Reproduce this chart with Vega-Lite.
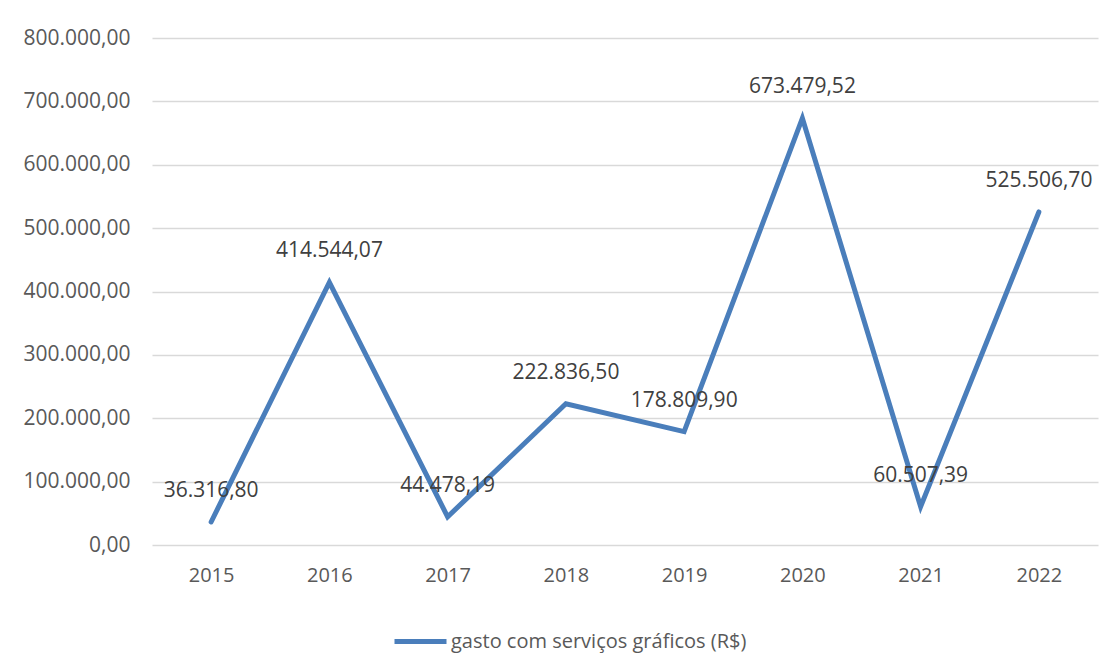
{
  "$schema": "https://vega.github.io/schema/vega-lite/v6.json",
  "width": 946,
  "height": 507,
  "autosize": {"type": "none"},
  "padding": {"left": 152, "top": 38, "right": 16, "bottom": 112},
  "background": "white",
  "config": {
    "locale": {"number": {"decimal": ",", "thousands": ".", "grouping": [3], "currency": ["R$", ""]}},
    "view": {"stroke": null},
    "font": "Open Sans"
  },
  "data": {
    "values": [
      {"ano": "2015", "valor": 36316.80, "serie": "gasto com serviços gráficos (R$)"},
      {"ano": "2016", "valor": 414544.07, "serie": "gasto com serviços gráficos (R$)"},
      {"ano": "2017", "valor": 44478.19, "serie": "gasto com serviços gráficos (R$)"},
      {"ano": "2018", "valor": 222836.50, "serie": "gasto com serviços gráficos (R$)"},
      {"ano": "2019", "valor": 178809.90, "serie": "gasto com serviços gráficos (R$)"},
      {"ano": "2020", "valor": 673479.52, "serie": "gasto com serviços gráficos (R$)"},
      {"ano": "2021", "valor": 60507.39, "serie": "gasto com serviços gráficos (R$)"},
      {"ano": "2022", "valor": 525506.70, "serie": "gasto com serviços gráficos (R$)"}
    ]
  },
  "encoding": {
    "x": {
      "field": "ano", "type": "ordinal",
      "scale": {"type": "point", "padding": 0.5},
      "axis": {"title": null, "labelAngle": 0, "labelFontSize": 20, "labelColor": "#595959", "labelPadding": 20, "ticks": false, "domain": false, "grid": false, "labelFont": "Open Sans"}
    },
    "y": {
      "field": "valor", "type": "quantitative",
      "scale": {"domain": [0, 800000], "nice": false},
      "axis": {"title": null, "values": [0, 100000, 200000, 300000, 400000, 500000, 600000, 700000, 800000], "format": ",.2f", "labelFontSize": 21, "labelColor": "#595959", "labelPadding": 22, "ticks": false, "domain": false, "grid": true, "gridColor": "#d9d9d9", "gridWidth": 1.5, "labelFont": "Open Sans"}
    }
  },
  "layer": [
    {
      "mark": {"type": "line", "strokeWidth": 5, "strokeCap": "round", "strokeJoin": "miter"},
      "encoding": {
        "color": {
          "field": "serie", "type": "nominal",
          "scale": {"range": ["#4a7ebb"]},
          "legend": {"title": null, "orient": "none", "legendX": 240, "legendY": 575, "symbolType": "stroke", "symbolSize": 2704, "symbolStrokeWidth": 5, "labelFontSize": 20, "labelColor": "#595959", "labelFont": "Open Sans", "labelLimit": 0, "symbolOffset": 0, "labelOffset": 2}
        }
      }
    },
    {
      "mark": {"type": "text", "dy": -31, "fontSize": 21, "color": "#404040", "baseline": "middle", "align": "center"},
      "encoding": {
        "text": {"field": "valor", "type": "quantitative", "format": ",.2f"}
      }
    }
  ]
}
